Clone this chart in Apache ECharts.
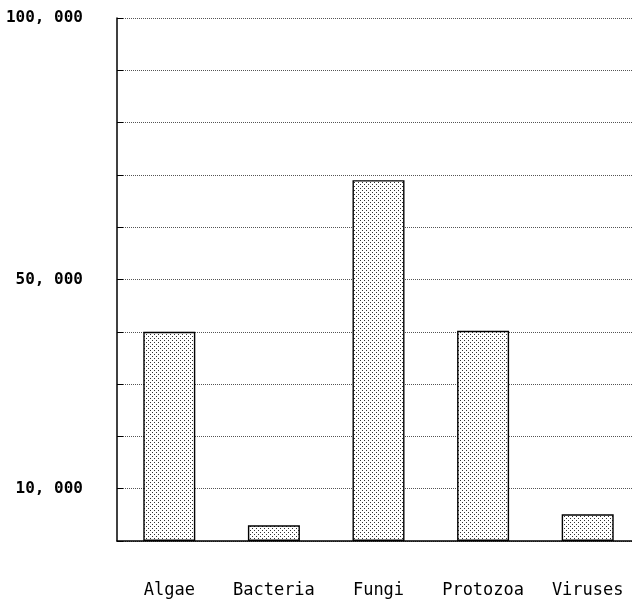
<!DOCTYPE html>
<html>
<head>
<meta charset="utf-8">
<script src="https://cdn.jsdelivr.net/npm/echarts@6/dist/echarts.min.js"></script>
<style>
html,body{margin:0;padding:0;background:#fff;overflow:hidden;}
#chart{width:632px;height:603px;}
</style>
</head>
<body>
<div id="chart"></div>
<script>
const categories = ['Algae', 'Bacteria', 'Fungi', 'Protozoa', 'Viruses'];
const values = [40000, 3000, 69000, 40200, 5100];
const yLabelValues = [10000, 50000, 100000];
const yLabelTexts = ['10, 000', '50, 000', '100, 000'];

// dotted fill pattern
const pc = document.createElement('canvas');
pc.width = 4; pc.height = 4;
const ctx = pc.getContext('2d');
ctx.fillStyle = '#ffffff';
ctx.fillRect(0, 0, 4, 4);
ctx.fillStyle = '#333333';
ctx.fillRect(0, 0, 1, 1);
ctx.fillRect(2, 2, 1, 1);

const chart = echarts.init(document.getElementById('chart'), null, {renderer: 'canvas'});
chart.setOption({
  animation: false,
  backgroundColor: '#ffffff',
  grid: {left: 117, width: 523, top: 18, bottom: 62, containLabel: false, outerBoundsMode: 'none'},
  xAxis: {
    type: 'category',
    data: categories,
    axisLine: {show: true, lineStyle: {color: '#000', width: 1.5}},
    axisTick: {show: false},
    axisLabel: {
      margin: 41,
      color: '#000',
      fontFamily: 'DejaVu Sans Mono',
      fontSize: 17,
      interval: 0
    },
    splitLine: {show: false}
  },
  yAxis: {
    type: 'value',
    min: 0,
    max: 100000,
    interval: 10000,
    axisLine: {show: true, lineStyle: {color: '#000', width: 1.5}},
    axisTick: {show: true, inside: true, length: 6, lineStyle: {color: '#000', width: 1}},
    axisLabel: {
      margin: 34,
      color: '#000',
      fontFamily: 'DejaVu Sans Mono',
      fontWeight: 'bold',
      fontSize: 16,
      formatter: function (v) {
        const i = yLabelValues.indexOf(v);
        return i >= 0 ? yLabelTexts[i] : '';
      }
    },
    splitLine: {show: true, lineStyle: {color: '#555', type: 'dotted', width: 1}}
  },
  series: [{
    type: 'bar',
    data: values,
    barWidth: 52,
    itemStyle: {
      color: {image: pc, repeat: 'repeat'},
      borderColor: '#000',
      borderWidth: 1.4
    }
  }]
});
</script>
</body>
</html>
